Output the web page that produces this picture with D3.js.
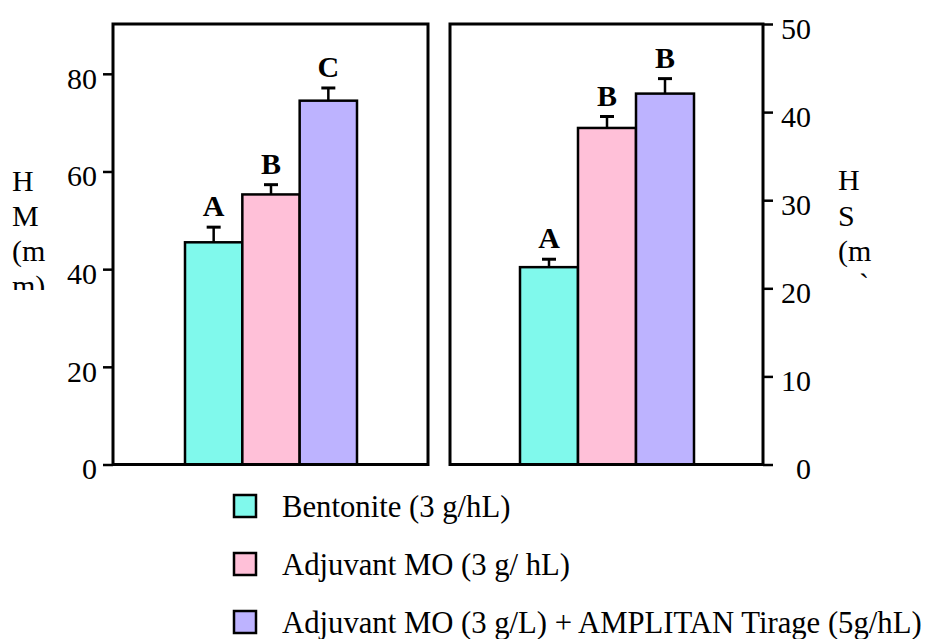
<!DOCTYPE html>
<html>
<head>
<meta charset="utf-8">
<script src="https://cdn.jsdelivr.net/npm/d3@7"></script>
<style>
  html, body { margin: 0; padding: 0; background: #fff; }
  svg { display: block; }
  text { font-family: "Liberation Serif", "Times New Roman", serif; fill: #000; }
</style>
</head>
<body>
<svg id="chart" width="931" height="639"></svg>
<script>
// Treatments, shared by both panels
const treatments = ["Bentonite (3 g/hL)", "Adjuvant MO (3 g/ hL)", "Adjuvant MO (3 g/L) + AMPLITAN Tirage (5g/hL)"];
const colors = ["#80F9EC", "#FFC0D8", "#BDB3FF"];

// Left panel (HM)
const hmValues = [45.5, 55.3, 74.5];
const hmErrors = [3.1, 2.0, 2.6];
const hmLetters = ["A", "B", "C"];
const hmTicks = [0, 20, 40, 60, 80];

// Right panel (HS)
const hsValues = [22.4, 38.2, 42.1];
const hsErrors = [0.9, 1.3, 1.7];
const hsLetters = ["A", "B", "B"];
const hsTicks = [0, 10, 20, 30, 40, 50];

const svg = d3.select("#chart");
const baseY = 464.5, topY = 24;
const FS = 30;

const panels = [
  { x0: 113, x1: 428, bx0: 185, bx1: 357, max: 90.2, values: hmValues, errors: hmErrors, letters: hmLetters, ticks: hmTicks, side: "left" },
  { x0: 450, x1: 763, bx0: 520, bx1: 694, max: 50.0, values: hsValues, errors: hsErrors, letters: hsLetters, ticks: hsTicks, side: "right" }
];

panels.forEach(p => {
  const y = d3.scaleLinear().domain([0, p.max]).range([baseY, topY]);
  const x = d3.scaleBand().domain(treatments).range([p.bx0, p.bx1]).padding(0);
  const g = svg.append("g");

  // bars
  g.selectAll("rect.bar").data(p.values).join("rect")
    .attr("class", "bar")
    .attr("x", (d, i) => x(treatments[i]))
    .attr("y", d => y(d))
    .attr("width", x.bandwidth())
    .attr("height", d => baseY - y(d))
    .attr("fill", (d, i) => colors[i])
    .attr("stroke", "#000")
    .attr("stroke-width", 2.5);

  // upper error whiskers and group letters
  p.values.forEach((v, i) => {
    const cx = x(treatments[i]) + x.bandwidth() / 2;
    const yt = y(v + p.errors[i]);
    g.append("line").attr("x1", cx).attr("x2", cx).attr("y1", y(v)).attr("y2", yt)
      .attr("stroke", "#000").attr("stroke-width", 2.5);
    g.append("line").attr("x1", cx - 7).attr("x2", cx + 7).attr("y1", yt).attr("y2", yt)
      .attr("stroke", "#000").attr("stroke-width", 3);
    g.append("text").attr("x", cx).attr("y", yt - 11)
      .attr("text-anchor", "middle").attr("font-size", FS).attr("font-weight", "bold")
      .text(p.letters[i]);
  });

  // frame
  g.append("rect").attr("x", p.x0).attr("y", topY).attr("width", p.x1 - p.x0).attr("height", baseY - topY)
    .attr("fill", "none").attr("stroke", "#000").attr("stroke-width", 3);

  // value axis
  const ax = (p.side === "left" ? d3.axisLeft(y).tickSize(10).tickPadding(6)
                                : d3.axisRight(y).tickSize(10).tickPadding(0))
    .tickValues(p.ticks).tickFormat(d3.format("d"));
  const a = svg.append("g")
    .attr("transform", `translate(${p.side === "left" ? p.x0 : p.x1},0)`)
    .call(ax);
  a.select(".domain").remove();
  a.selectAll(".tick line").attr("stroke-width", 2.5);
  a.selectAll(".tick text").attr("font-size", FS).attr("dy", "0.48em");
  if (p.side === "right") {
    // right-hand labels are right-aligned in a column
    a.selectAll(".tick text").attr("x", 48).attr("text-anchor", "end");
  }
});

// stacked axis titles, clipped at the bottom
const defs = svg.append("defs");
defs.append("clipPath").attr("id", "clipL").append("rect").attr("x", 0).attr("y", 0).attr("width", 62).attr("height", 290);
defs.append("clipPath").attr("id", "clipR").append("rect").attr("x", 820).attr("y", 0).attr("width", 100).attr("height", 290);

const leftTitle = ["H", "M", "(m", "m)"];
const rightTitle = ["H", "S", "(m"];
const lt = svg.append("g").attr("clip-path", "url(#clipL)");
leftTitle.forEach((t, i) => lt.append("text").attr("x", 12).attr("y", 191 + i * 35).attr("font-size", FS).text(t));
const rt = svg.append("g").attr("clip-path", "url(#clipR)");
rightTitle.forEach((t, i) => rt.append("text").attr("x", 838).attr("y", 190 + i * 35.5).attr("font-size", FS).text(t));
rt.append("text").attr("x", 859).attr("y", 294).attr("font-size", FS).text("`");

// legend
const lg = svg.append("g");
treatments.forEach((t, i) => {
  const yy = 506 + i * 58;
  lg.append("rect").attr("x", 234).attr("y", yy - 11).attr("width", 22).attr("height", 22)
    .attr("fill", colors[i]).attr("stroke", "#000").attr("stroke-width", 2.5);
  lg.append("text").attr("x", 282).attr("y", yy + 11).attr("font-size", 30.7).text(t);
});
</script>
</body>
</html>
